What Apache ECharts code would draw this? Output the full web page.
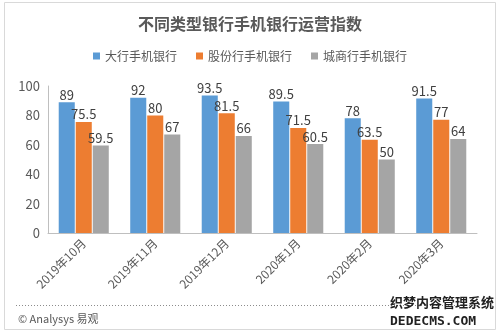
<!DOCTYPE html>
<html><head><meta charset="utf-8">
<script src="https://cdn.jsdelivr.net/npm/echarts@6/dist/echarts.min.js"></script>
<style>html,body{margin:0;padding:0;background:#fff}#c{width:500px;height:335px}</style>
</head><body><div id="c"></div>
<script>
const categories = ['2019年10月','2019年11月','2019年12月','2020年1月','2020年2月','2020年3月'];
const seriesNames = ['大行手机银行','股份行手机银行','城商行手机银行'];
const bigBanks = [89, 92, 93.5, 89.5, 78, 91.5];
const jointStock = [75.5, 80, 81.5, 71.5, 63.5, 77];
const cityBanks = [59.5, 67, 66, 60.5, 50, 64];
const colors = ['#5B9BD5','#ED7D31','#A5A5A5'];
const font = '"Microsoft YaHei","Noto Sans CJK SC",sans-serif';
const chart = echarts.init(document.getElementById('c'));
const mk = (name, data, i) => ({
  name, type: 'bar', data, barGap: '6%', barCategoryGap: '30%',
  itemStyle: {color: colors[i]},
  label: {show: true, position: 'top', distance: 1, color: '#404040', fontSize: 13, fontFamily: font}
});
chart.setOption({
  animation: false,
  title: {text: '不同类型银行手机银行运营指数', left: 'center', top: 11,
    textStyle: {fontSize: 16, fontWeight: 'bold', color: '#595959', fontFamily: font}},
  legend: {top: 45, left: 'center', itemWidth: 7, itemHeight: 7, itemGap: 19, icon: 'rect',
    textStyle: {fontSize: 12, color: '#595959', fontFamily: font}, data: seriesNames},
  grid: {left: 48, right: 23, top: 86, bottom: 102},
  xAxis: {type: 'category', data: categories,
    axisLine: {lineStyle: {color: '#BFBFBF'}}, axisTick: {show: false},
    axisLabel: {rotate: 45, fontSize: 12, color: '#595959', fontFamily: font, margin: 8}},
  yAxis: {type: 'value', min: 0, max: 100, interval: 20,
    axisLine: {show: true, lineStyle: {color: '#BFBFBF'}}, axisTick: {show: true, length: 0},
    splitLine: {show: false},
    axisLabel: {fontSize: 13, color: '#595959', fontFamily: font, margin: 8}},
  graphic: [
    {type: 'rect', shape: {x: 4.5, y: 2.5, width: 491, height: 327}, style: {fill: null, stroke: '#D9D9D9', lineWidth: 1}, silent: true, z: -1},
    {type: 'line', shape: {x1: 16, y1: 305.5, x2: 476, y2: 305.5}, style: {stroke: '#8C8C8C', lineWidth: 1, lineDash: [1, 2]}},
    {type: 'text', left: 18, top: 313, style: {text: '© Analysys 易观', fontSize: 11, fill: '#595959', fontFamily: font}},
    {type: 'text', left: 390, top: 296, style: {text: '织梦内容管理系统', fontSize: 13, fontWeight: 'bold', fill: '#222', fontFamily: font}},
    {type: 'text', left: 390, top: 315, style: {text: 'DEDECMS.COM', fontSize: 13, fontWeight: 'bold', fill: '#222', fontFamily: 'DejaVu Sans Mono, monospace'}}
  ],
  series: [mk(seriesNames[0], bigBanks, 0), mk(seriesNames[1], jointStock, 1), mk(seriesNames[2], cityBanks, 2)]
});
</script></body></html>
